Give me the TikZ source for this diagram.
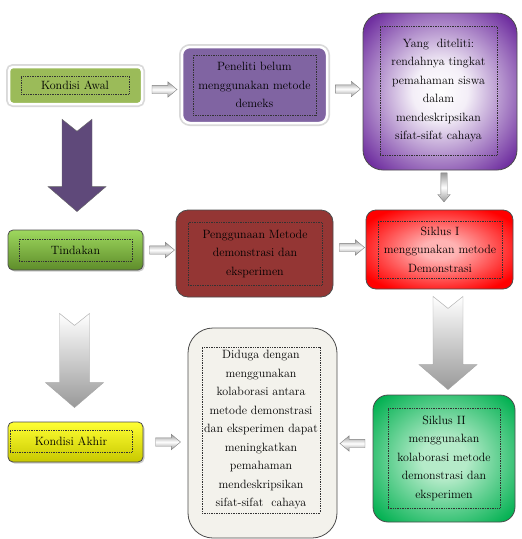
\documentclass[tikz,border=0pt]{standalone}
\usetikzlibrary{calc,shapes.arrows,shadows}
\definecolor{awalgreen}{HTML}{9BBB59}
\definecolor{penpurple}{HTML}{8064A2}
\definecolor{yangpurple}{HTML}{7030A0}
\definecolor{arrpurple}{HTML}{5F497A}
\definecolor{tindtop}{HTML}{9ED85E}
\definecolor{tindbot}{HTML}{5E8C2A}
\definecolor{pengred}{HTML}{943634}
\definecolor{akhirtop}{HTML}{FFFF33}
\definecolor{akhirbot}{HTML}{C8C800}
\definecolor{dugfill}{HTML}{F3F2EC}
\definecolor{sikgreen}{HTML}{00B050}
\definecolor{sikpale}{HTML}{B5EBC9}
\definecolor{sikpink}{HTML}{FFB3B3}
\pgfdeclareradialshading{yangglow}{\pgfpoint{0bp}{0bp}}{color(0bp)=(white); color(9bp)=(white!92!yangpurple); color(32bp)=(yangpurple); color(50bp)=(yangpurple)}
\pgfdeclareradialshading{redglow}{\pgfpoint{0bp}{0bp}}{color(0bp)=(sikpink); color(6bp)=(sikpink); color(30bp)=(red); color(50bp)=(red)}
\pgfdeclareradialshading{greenglow}{\pgfpoint{0bp}{0bp}}{color(0bp)=(sikpale); color(8bp)=(sikpale); color(33bp)=(sikgreen); color(50bp)=(sikgreen)}
\tikzset{
  box/.style 2 args={minimum width=#1pt, minimum height=#2pt, inner sep=0pt},
  glow/.style={preaction={draw=black!15, line width=6pt}, draw=white, line width=2.5pt},
  edge/.style={draw=black!70, line width=0.8pt},
  txt/.style 2 args={draw=black!80, densely dotted, line width=0.7pt, minimum width=#1pt,
    minimum height=#2pt, inner sep=0pt, align=center, font=\fontsize{12}{18.5}\selectfont},
  smallarr/.style={single arrow, draw=black!50, top color=black!40, bottom color=black!40,
    middle color=white, inner sep=4pt, single arrow head extend=3.5pt,
    single arrow tip angle=80, minimum height=25pt, sloped, allow upside down},
  bigarr/.style={to path={
    ($(\tikztostart)+(-15,0)$) -- ($(\tikztotarget)+(-15,-25)$) -- ($(\tikztotarget)+(-29,-25)$)
    -- (\tikztotarget) -- ($(\tikztotarget)+(29,-25)$) -- ($(\tikztotarget)+(15,-25)$)
    -- ($(\tikztostart)+(15,0)$) -- ($(\tikztostart)+(0,12)$) -- cycle}}
}
\begin{document}
\begin{tikzpicture}[x=1pt, y=-1pt]
  \useasboundingbox (0,0) rectangle (522,539);
  % boxes
  \node[box={133}{37}, glow, fill=awalgreen, rounded corners=4pt] (awal) at (75.5,85.5) {};
  \node[box={145}{76}, glow, fill=penpurple, rounded corners=8pt] (pen) at (254.5,85) {};
  \node[box={154}{157}, edge, shading=yangglow, rounded corners=20pt] (yang) at (440,91.5) {};
  \node[box={135}{40}, edge, top color=tindtop, bottom color=tindbot, rounded corners=5pt,
    drop shadow={shadow xshift=1.5pt, shadow yshift=-1.5pt, opacity=.4}] (tind) at (75.5,250) {};
  \node[box={157}{87}, edge, fill=pengred, rounded corners=12pt] (peng) at (254.5,253.5) {};
  \node[box={147}{79}, edge, shading=redglow, rounded corners=10pt] (sik1) at (439.5,249.5) {};
  \node[box={135}{40}, edge, top color=akhirtop, bottom color=akhirbot, rounded corners=5pt,
    drop shadow={shadow xshift=1.5pt, shadow yshift=-1.5pt, opacity=.4}] (akhir) at (75.5,442) {};
  \node[box={149}{210}, edge, fill=dugfill, rounded corners=25pt] (dug) at (262.5,433) {};
  \node[box={142}{127}, edge, shading=greenglow, rounded corners=15pt] (sik2) at (444,458.5) {};
  % texts
  \node[txt={108}{18}] (awaltxt) at (75,85) {Kondisi Awal};
  \node[txt={123}{60}] (pentxt) at (254.5,85) {Peneliti belum\\ menggunakan metode\\ demeks};
  \node[txt={117}{129}] (yangtxt) at (438.5,90.5) {Yang\ \ diteliti:\\ rendahnya tingkat\\ pemahaman siswa\\ dalam\\ mendeskripsikan\\ sifat-sifat cahaya};
  \node[txt={113}{22}] (tindtxt) at (75.5,250) {Tindakan};
  \node[txt={134}{63}] (pengtxt) at (255,253.5) {Penggunaan Metode\\ demonstrasi dan\\ eksperimen};
  \node[txt={124}{57}] (sik1txt) at (440,249.5) {Siklus I\\ menggunakan metode\\ Demonstrasi};
  \node[txt={122}{22}] (akhirtxt) at (71,441) {Kondisi Akhir};
  \node[txt={118}{166}] (dugtxt) at (261,430) {Diduga dengan\\ menggunakan\\ kolaborasi antara\\ metode demonstrasi\\ dan eksperimen dapat\\ meningkatkan\\ pemahaman\\ mendeskripsikan\\ sifat-sifat\ \ cahaya};
  \node[txt={112}{100}] (sik2txt) at (444,458) {Siklus II\\ menggunakan\\ kolaborasi metode\\ demonstrasi dan\\ eksperimen};
  % small arrows
  \path ($(awal.east)+(0,4)$) -- node[smallarr] (a1) {} ($(awal.east -| pen.west)+(0,4)$);
  \path ($(pen.east)+(0,4)$) -- node[smallarr] (a2) {} ($(pen.east -| yang.west)+(0,4)$);
  \path (tind.east) -- node[smallarr] (a3) {} (tind.east -| peng.west);
  \path ($(peng.east)+(0,-6)$) -- node[smallarr] (a4) {} ($(peng.east -| sik1.west)+(0,-6)$);
  \path (akhir.east) -- node[smallarr] (a5) {} (akhir.east -| dug.west);
  \path ($(sik2.west)+(0,-15)$) -- node[smallarr] (a6) {} ($(sik2.west -| dug.east)+(0,-15)$);
  \path ($(yang.south)+(4,1)$) -- node[smallarr, inner sep=3pt, single arrow head extend=3pt,
    minimum height=29pt] (a7) {} ($(sik1.north)+(4.5,-10)$);
  % big arrows
  \coordinate (patop) at ($(awal.south)+(1.5,14)$);
  \coordinate (patip) at ($(tind.north)+(1.5,-18)$);
  \coordinate (gatop) at ($(tind.south)+(-1,43)$);
  \coordinate (gatip) at ($(akhir.north)+(-1,-14)$);
  \coordinate (gbtop) at ($(sik1.south)+(8.5,7)$);
  \coordinate (gbtip) at ($(sik2.north)+(4,-5)$);
  \draw[fill=arrpurple, draw=black!60] (patop) to[bigarr] (patip);
  \draw[top color=white, bottom color=black!40, draw=black!35] (gatop) to[bigarr] (gatip);
  \draw[top color=white, bottom color=black!40, draw=black!35] (gbtop) to[bigarr] (gbtip);
\end{tikzpicture}
\end{document}
